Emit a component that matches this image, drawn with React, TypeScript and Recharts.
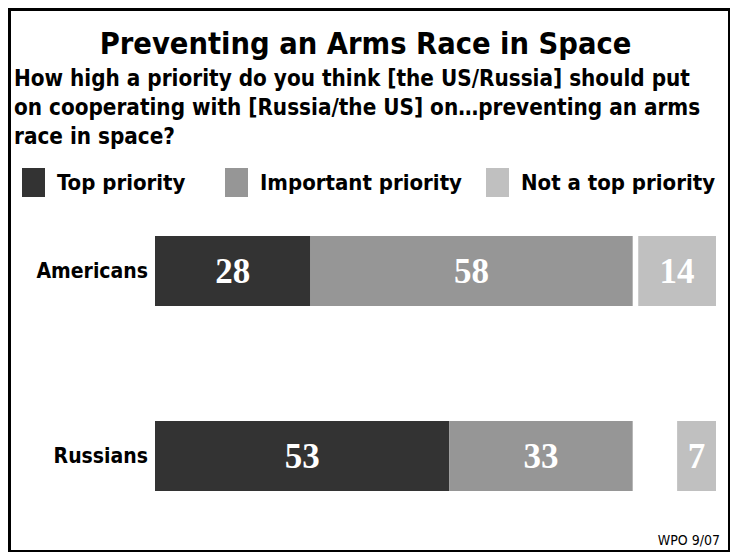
import React from "react";
import { BarChart, Bar, XAxis, YAxis, LabelList } from "recharts";

// values (percent)
const groups = ["Americans", "Russians"];
const topPriority = [28, 53];
const importantPriority = [58, 33];
const notTopPriority = [14, 7];

const seriesNames = ["Top priority", "Important priority", "Not a top priority"];
const seriesColors = ["#333333", "#969696", "#c0c0c0"];

// the last segment is pushed to the right edge, so the axis runs a bit past 100
const axisMax = 101;

const rows = groups.map((name, i) => ({
  name,
  top: topPriority[i],
  important: importantPriority[i],
  spacer: axisMax - topPriority[i] - importantPriority[i] - notTopPriority[i],
  notTop: notTopPriority[i],
}));

const sans = '"Liberation Sans Narrow", "DejaVu Sans Condensed", "Open Sans", sans-serif';
const serif = '"Liberation Serif", "DejaVu Serif", serif';

const valueLabel = {
  position: "center" as const,
  fill: "#ffffff",
  fontSize: 35,
  fontWeight: 700,
  fontFamily: serif,
};

export default function App() {
  return (
    <div style={{ position: "absolute", left: 0, top: 0, width: 731, height: 552, background: "#fff", overflow: "hidden" }}>
      <div
        style={{
          position: "absolute",
          left: 8,
          top: 8,
          width: 722,
          height: 544,
          borderStyle: "solid",
          borderColor: "#000",
          borderWidth: "3px 2px 2px 3px",
          boxSizing: "border-box",
        }}
      />
      <div
        style={{
          position: "absolute",
          left: 0,
          top: 24,
          width: 731,
          textAlign: "center",
          fontFamily: sans,
          fontWeight: 700,
          fontSize: 30.5,
          lineHeight: "40px",
          color: "#000",
        }}
      >
        Preventing an Arms Race in Space
      </div>
      <div
        style={{
          position: "absolute",
          left: 14,
          top: 64,
          width: 712,
          fontFamily: sans,
          fontWeight: 700,
          fontSize: 22.3,
          lineHeight: "29px",
          color: "#000",
        }}
      >
        How high a priority do you think [the US/Russia] should put
        <br />
        on cooperating with [Russia/the US] on…preventing an arms
        <br />
        race in space?
      </div>
      <div style={{ position: "absolute", left: 0, top: 166, width: 731, height: 32 }}>
        {seriesNames.map((s, i) => (
          <div
            key={s}
            style={{
              position: "absolute",
              left: [22, 225, 486][i],
              top: 0,
              display: "flex",
              alignItems: "center",
              height: 32,
              fontFamily: sans,
              fontWeight: 700,
              fontSize: 22,
              whiteSpace: "nowrap",
            }}
          >
            <span style={{ display: "inline-block", width: 23, height: 29, background: seriesColors[i], marginRight: 12 }} />
            {s}
          </div>
        ))}
      </div>
      <div style={{ position: "absolute", right: 11, bottom: 4, fontFamily: sans, fontSize: 14, color: "#000" }}>WPO 9/07</div>
      <div style={{ position: "absolute", left: 0, top: 0 }}>
        <BarChart
          width={731}
          height={552}
          data={rows}
          layout="vertical"
          margin={{ top: 178, right: 15, bottom: 4, left: 15 }}
          barSize={70}
        >
          <XAxis type="number" domain={[0, axisMax]} hide />
          <YAxis
            type="category"
            dataKey="name"
            width={140}
            axisLine={false}
            tickLine={false}
            tickSize={0}
            tickMargin={7}
            tick={{ fill: "#000", fontSize: 21, fontWeight: 700, fontFamily: sans }}
          />
          <Bar dataKey="top" stackId="a" fill={seriesColors[0]} isAnimationActive={false}>
            <LabelList dataKey="top" {...valueLabel} />
          </Bar>
          <Bar dataKey="important" stackId="a" fill={seriesColors[1]} isAnimationActive={false}>
            <LabelList dataKey="important" {...valueLabel} />
          </Bar>
          <Bar dataKey="spacer" stackId="a" fill="transparent" isAnimationActive={false} />
          <Bar dataKey="notTop" stackId="a" fill={seriesColors[2]} isAnimationActive={false}>
            <LabelList dataKey="notTop" {...valueLabel} />
          </Bar>
        </BarChart>
      </div>
    </div>
  );
}
